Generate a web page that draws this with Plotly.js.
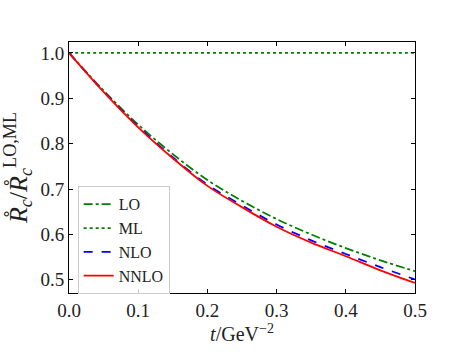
<!DOCTYPE html>
<html>
<head>
<meta charset="utf-8">
<script src="https://cdn.plot.ly/plotly-3.0.1.min.js"></script>
<style>
  body { margin: 0; background: white; }
  #chart { width: 461px; height: 355px; }
</style>
</head>
<body>
<div id="chart"></div>
<script>
// Values
let tValues = [0, 0.05, 0.1, 0.15, 0.2, 0.25, 0.3, 0.35, 0.4, 0.45, 0.5];
let ratioLO   = [1.0, 0.917, 0.842, 0.777, 0.720, 0.674, 0.634, 0.600, 0.570, 0.543, 0.519];
let ratioML   = [1.0, 1.0, 1.0, 1.0, 1.0, 1.0, 1.0, 1.0, 1.0, 1.0, 1.0];
let ratioNLO  = [1.0, 0.915, 0.838, 0.770, 0.710, 0.664, 0.622, 0.587, 0.557, 0.528, 0.501];
let ratioNNLO = [1.0, 0.914, 0.836, 0.768, 0.707, 0.660, 0.617, 0.582, 0.552, 0.521, 0.493];

let seriesNames = ['LO', 'ML', 'NLO', 'NNLO'];
let xTicks = [0, 0.1, 0.2, 0.3, 0.4, 0.5];
let yTicks = [0.5, 0.6, 0.7, 0.8, 0.9, 1.0];

const serif = '"Liberation Serif", "DejaVu Serif", serif';

// Line styles, matplotlib-like
let styles = [
    { color: '#008000', dash: 'dashdot' },
    { color: '#008000', dash: 'dot' },
    { color: '#0000ff', dash: 'dash' },
    { color: '#ff0000', dash: 'solid' }
];
let series = [ratioLO, ratioML, ratioNLO, ratioNNLO];

let traces = series.map((vals, i) => ({
    x: tValues,
    y: vals,
    name: seriesNames[i],
    mode: 'lines',
    type: 'scatter',
    line: { color: styles[i].color, dash: styles[i].dash, width: 1.8, shape: 'spline' },
    hoverinfo: 'none'
}));

let axisCommon = {
    showgrid: false,
    zeroline: false,
    showline: true,
    linecolor: 'black',
    linewidth: 1,
    mirror: 'allticks',
    ticks: 'inside',
    ticklen: 4,
    tickcolor: 'black',
    tickfont: { family: serif, size: 19, color: '#222' },
    fixedrange: true
};

let layout = {
    width: 461,
    height: 355,
    autosize: false,
    margin: { l: 69, r: 46, t: 42, b: 62, pad: 0 },
    paper_bgcolor: 'white',
    plot_bgcolor: 'white',
    showlegend: true,
    legend: {
        x: 0.025,
        y: 0.425,
        xanchor: 'left',
        yanchor: 'top',
        bgcolor: 'rgba(255,255,255,0.8)',
        bordercolor: '#cccccc',
        borderwidth: 1,
        font: { family: serif, size: 16, color: '#222' },
        tracegroupgap: 0
    },
    xaxis: Object.assign({}, axisCommon, {
        range: [0, 0.5],
        tickvals: xTicks,
        ticktext: xTicks.map(v => v.toFixed(1)),
        title: { text: '<i>t</i>/GeV<sup>−2</sup>', font: { family: serif, size: 20, color: '#222' }, standoff: 4 }
    }),
    yaxis: Object.assign({}, axisCommon, {
        range: [0.471, 1.024],
        tickvals: yTicks,
        ticktext: yTicks.map(v => v.toFixed(1)),
        title: {
            text: '<i>R̊</i><sub><i>c</i></sub>/<i>R̊</i><sub><i>c</i></sub><sup>LO,ML</sup>',
            font: { family: serif, size: 26, color: '#222' },
            standoff: 6
        }
    })
};

Plotly.newPlot('chart', traces, layout, { displayModeBar: false, staticPlot: true });
</script>
</body>
</html>
